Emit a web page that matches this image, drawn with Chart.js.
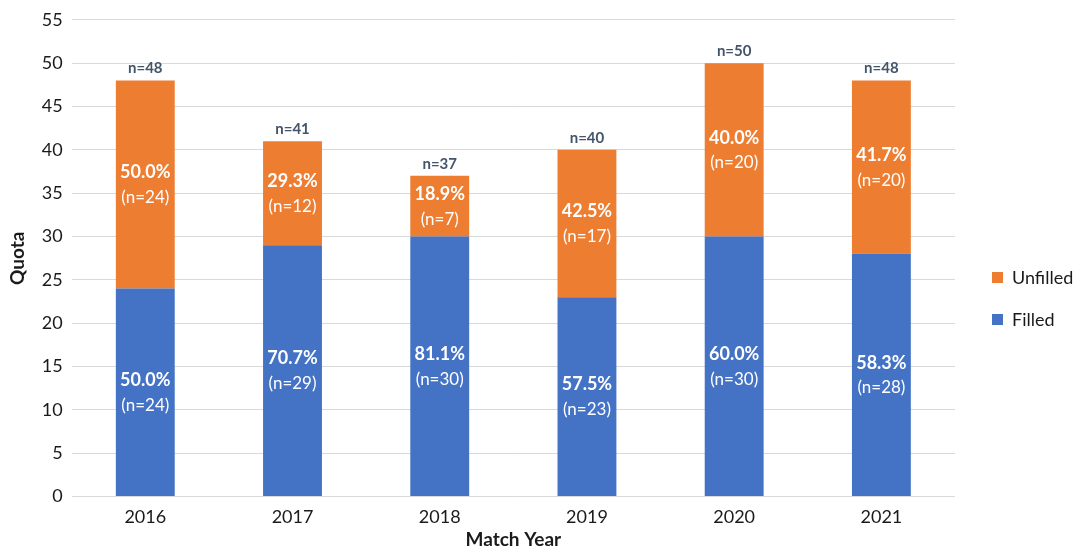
<!DOCTYPE html>
<html>
<head>
<meta charset="utf-8">
<script src="https://cdn.jsdelivr.net/npm/chart.js@4/dist/chart.umd.min.js"></script>
<style>
  html, body { margin: 0; padding: 0; background: #fff; }
  #wrap { width: 1081px; height: 551px; }
</style>
</head>
<body>
<div id="wrap"><canvas id="quotaChart"></canvas></div>
<script>
const years = ['2016', '2017', '2018', '2019', '2020', '2021'];
const filled = [24, 29, 30, 23, 30, 28];
const unfilled = [24, 12, 7, 17, 20, 20];
const filledPct = ['50.0%', '70.7%', '81.1%', '57.5%', '60.0%', '58.3%'];
const unfilledPct = ['50.0%', '29.3%', '18.9%', '42.5%', '40.0%', '41.7%'];
const totals = [48, 41, 37, 40, 50, 48];

const FONT = 'Lato, "Open Sans", sans-serif';

// labels inside the bars and totals above them
const barLabels = {
    id: 'barLabels',
    afterDatasetsDraw(chart) {
        const ctx = chart.ctx;
        const pcts = [filledPct, unfilledPct];
        const counts = [filled, unfilled];
        ctx.save();
        ctx.textAlign = 'center';
        ctx.textBaseline = 'middle';
        chart.data.datasets.forEach((ds, di) => {
            chart.getDatasetMeta(di).data.forEach((bar, i) => {
                const mid = (bar.y + bar.base) / 2;
                ctx.fillStyle = '#ffffff';
                ctx.font = 'bold 18px ' + FONT;
                ctx.fillText(pcts[di][i], bar.x, mid - 12);
                ctx.font = '17px ' + FONT;
                ctx.fillText('(n=' + counts[di][i] + ')', bar.x, mid + 13);
            });
        });
        const top = chart.getDatasetMeta(1).data;
        ctx.fillStyle = '#44546A';
        ctx.font = 'bold 15px ' + FONT;
        top.forEach((bar, i) => {
            ctx.fillText('n=' + totals[i], bar.x, bar.y - 12);
        });

        // legend, Unfilled above Filled
        const items = [
            { text: 'Unfilled', color: '#ED7D31', y: 278 },
            { text: 'Filled', color: '#4472C4', y: 320 }
        ];
        ctx.textAlign = 'left';
        ctx.font = '18px ' + FONT;
        items.forEach(it => {
            ctx.fillStyle = it.color;
            ctx.fillRect(992, it.y - 6, 11, 11);
            ctx.fillStyle = '#1a1a1a';
            ctx.fillText(it.text, 1012, it.y);
        });
        ctx.restore();
    }
};

new Chart(document.getElementById('quotaChart'), {
    type: 'bar',
    data: {
        labels: years,
        datasets: [
            { label: 'Filled', data: filled, backgroundColor: '#4472C4' },
            { label: 'Unfilled', data: unfilled, backgroundColor: '#ED7D31' }
        ]
    },
    options: {
        responsive: true,
        maintainAspectRatio: false,
        animation: false,
        layout: { padding: { top: 9, right: 126, left: 2, bottom: 0 } },
        datasets: { bar: { categoryPercentage: 1, barPercentage: 0.4 } },
        plugins: {
            legend: { display: false },
            tooltip: { enabled: false }
        },
        scales: {
            x: {
                stacked: true,
                grid: { display: false, drawTicks: false },
                border: { display: false },
                ticks: { color: '#1a1a1a', font: { family: FONT, size: 18 }, padding: 10 },
                title: {
                    display: true, text: 'Match Year', color: '#1a1a1a',
                    font: { family: FONT, size: 19, weight: 'bold' }, padding: { top: -10, bottom: 0 }
                }
            },
            y: {
                stacked: true,
                min: 0, max: 55,
                ticks: { stepSize: 5, color: '#1a1a1a', font: { family: FONT, size: 18 }, padding: 9 },
                grid: { color: '#d9d9d9', lineWidth: 1, drawTicks: false },
                border: { display: false },
                title: {
                    display: true, text: 'Quota', color: '#1a1a1a',
                    font: { family: FONT, size: 19, weight: 'bold' }, padding: { bottom: 4 }
                }
            }
        }
    },
    plugins: [barLabels]
});
</script>
</body>
</html>
